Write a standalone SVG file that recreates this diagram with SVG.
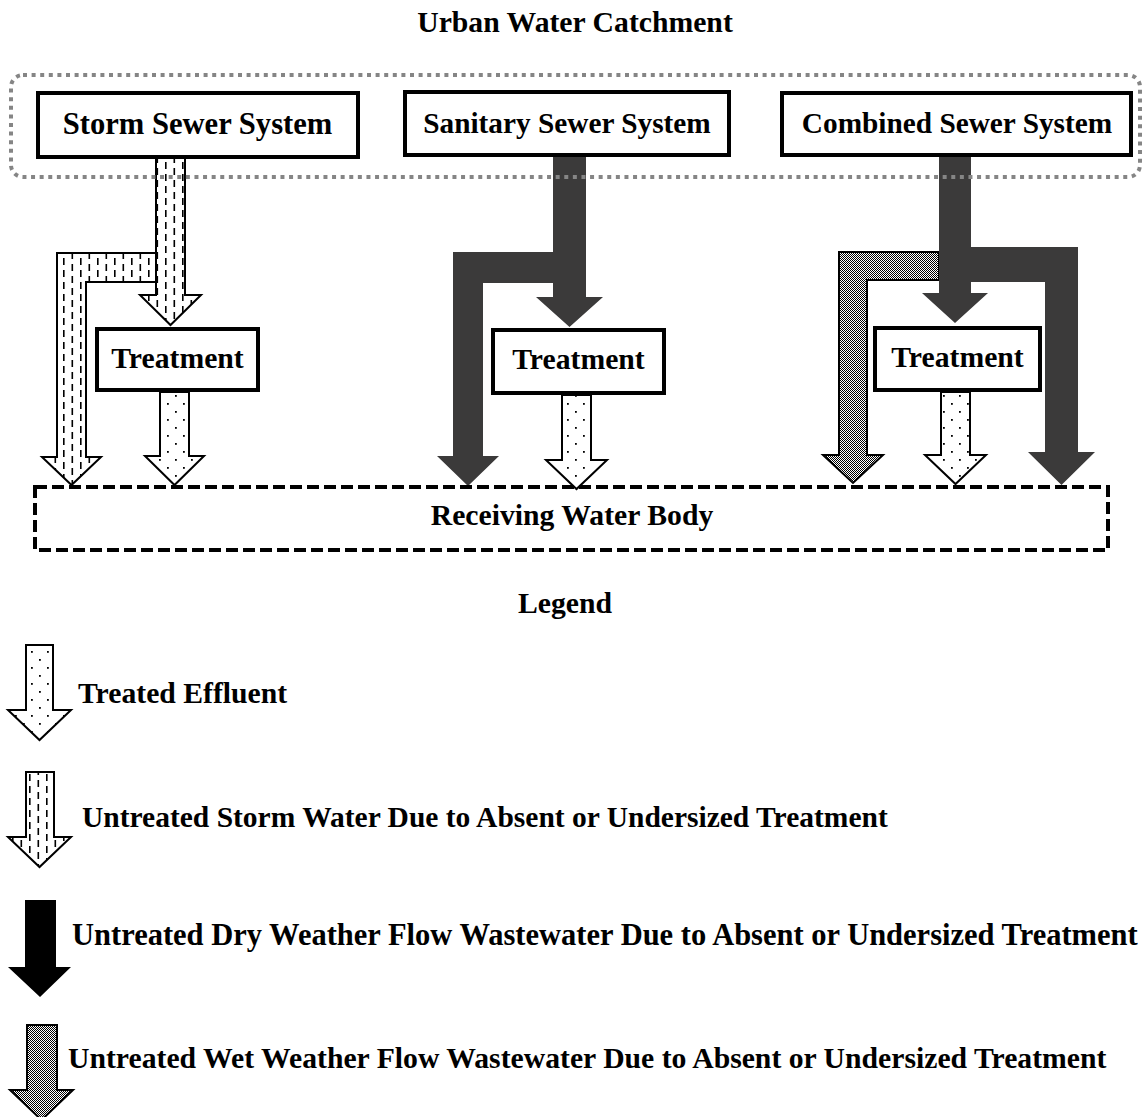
<svg xmlns="http://www.w3.org/2000/svg" width="1145" height="1117" viewBox="0 0 1145 1117">
<style>
text{font-family:"Liberation Serif","Times New Roman",serif;font-weight:bold;font-size:29.7px;fill:#000}
.c{text-anchor:middle}
.box{fill:#fff;stroke:#000;stroke-width:4}
.treated{fill:url(#dots);stroke:#000;stroke-width:2;stroke-linejoin:miter}
.storm{fill:url(#dashes);stroke:#000;stroke-width:2;stroke-linejoin:miter}
.wet{fill:url(#checker);stroke:#000;stroke-width:2;stroke-linejoin:miter}
.dry{fill:#3b3a3a;stroke:none}
</style>
<defs>
<pattern id="dots" patternUnits="userSpaceOnUse" width="16" height="16">
<rect width="16" height="16" fill="#fff"/>
<rect x="7" y="3" width="1.8" height="1.8" fill="#000"/>
<rect x="-1" y="11" width="1.8" height="1.8" fill="#000"/>
<rect x="15" y="11" width="1.8" height="1.8" fill="#000"/>
</pattern>
<pattern id="dashes" patternUnits="userSpaceOnUse" width="17" height="12">
<rect width="17" height="12" fill="#fff"/>
<rect x="3.5" y="0" width="1.6" height="7" fill="#000"/>
<rect x="12" y="6" width="1.6" height="6" fill="#000"/>
<rect x="12" y="0" width="1.6" height="1" fill="#000"/>
</pattern>
<pattern id="checker" patternUnits="userSpaceOnUse" width="2" height="2">
<rect width="2" height="2" fill="#fff"/>
<rect x="0" y="0" width="1" height="1" fill="#000"/>
<rect x="1" y="1" width="1" height="1" fill="#000"/>
</pattern>
</defs>
<rect width="1145" height="1117" fill="#fff"/>

<text class="c" x="575" y="32">Urban Water Catchment</text>

<g id="connectors">
<!-- storm -->
<polygon class="storm" points="156,253 57,253 57,457 42,457 71.5,485 101,457 86,457 86,282 156,282"/>
<polygon class="storm" points="156,157 185,157 185,295 201,295 170.5,325 140,295 156,295"/>
<polygon class="treated" points="160,392 189,392 189,456 204,456 174.5,485 145,456 160,456"/>
<!-- sanitary -->
<polygon class="dry" points="553,252 453,252 453,456 437,456 468,486 499,456 483,456 483,283 553,283"/>
<polygon class="dry" points="553,155 586,155 586,297 603,297 569.5,327 536,297 553,297"/>
<polygon class="treated" points="562,395 591,395 591,460 607,460 576.5,489 546,460 562,460"/>
<!-- combined -->
<polygon class="wet" points="939,252 839,252 839,455 823,455 853,483 883,455 867,455 867,280 939,280"/>
<polygon class="dry" points="971,247 1078,247 1078,452 1095,452 1061.5,485 1028,452 1045,452 1045,282 971,282"/>
<polygon class="dry" points="939,155 971,155 971,293 988,293 955,323 922,293 939,293"/>
<polygon class="treated" points="941,392 970,392 970,455 986,455 955.5,484 925,455 941,455"/>
</g>

<g id="catchment">
<rect x="11" y="75" width="1129" height="102" rx="12" ry="12" fill="none" stroke="#858585" stroke-width="4" stroke-dasharray="4 4.6"/>
</g>

<g id="storm-sewer">
<rect class="box" x="38" y="93" width="320" height="64"/>
<text class="c" x="197.5" y="134" style="font-size:30.6px">Storm Sewer System</text>
</g>
<g id="sanitary-sewer">
<rect class="box" x="405" y="92" width="324" height="63"/>
<text class="c" x="567" y="133" style="font-size:29.3px">Sanitary Sewer System</text>
</g>
<g id="combined-sewer">
<rect class="box" x="782" y="93" width="349" height="62"/>
<text class="c" x="957" y="133" style="font-size:29.3px">Combined Sewer System</text>
</g>

<g id="treatment-storm">
<rect class="box" x="97" y="329" width="161" height="61"/>
<text class="c" x="177.5" y="368">Treatment</text>
</g>
<g id="treatment-sanitary">
<rect class="box" x="493" y="330" width="171" height="63"/>
<text class="c" x="578.5" y="369">Treatment</text>
</g>
<g id="treatment-combined">
<rect class="box" x="875" y="328" width="165" height="62"/>
<text class="c" x="957.5" y="367">Treatment</text>
</g>

<g id="receiving-water-body">
<rect x="35" y="487" width="1073" height="63" fill="none" stroke="#000" stroke-width="4" stroke-dasharray="12 5"/>
<text class="c" x="572" y="525">Receiving Water Body</text>
</g>

<g id="legend">
<text class="c" x="565" y="613">Legend</text>
<polygon class="treated" points="26,645 53,645 53,710 71,710 39.5,740 8,710 26,710"/>
<text x="78" y="703">Treated Effluent</text>
<polygon class="storm" points="26,772 54,772 54,837 71,837 39.5,867 8,837 26,837"/>
<text x="82" y="827" style="font-size:29.5px">Untreated Storm Water Due to Absent or Undersized Treatment</text>
<polygon fill="#000" points="25,900 56,900 56,967 71,967 40,997 8,967 25,967"/>
<text x="72" y="945" style="font-size:30.5px">Untreated Dry Weather Flow Wastewater Due to Absent or Undersized Treatment</text>
<polygon class="wet" points="27,1025 57,1025 57,1090 73,1090 41.5,1120 10,1090 27,1090"/>
<text x="68" y="1068">Untreated Wet Weather Flow Wastewater Due to Absent or Undersized Treatment</text>
</g>
</svg>
